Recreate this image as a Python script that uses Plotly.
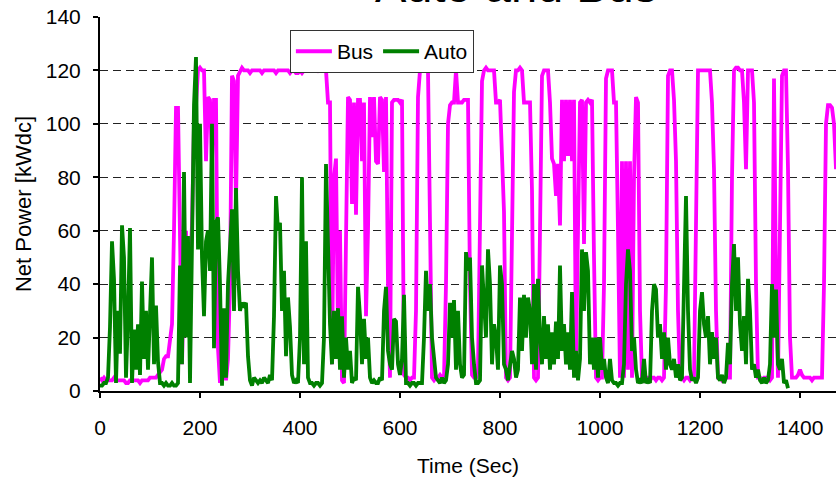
import numpy as np
import plotly.graph_objects as go

# Sampling interval of the recorded traces (seconds)
STEP_S = 4

# Bus net power [kWdc], one value every 4 s starting at t = 0 s (rows of 10 = 40 s)
bus_power = [
    5, 4, 5, 4, 4, 4, 4, 5, 4, 4,                      # 0
    4, 4, 4, 3, 3, 4, 4, 4, 4, 4,                      # 40
    3, 4, 4, 4, 4, 5, 5, 5, 5, 6,                      # 80
    7, 8, 12, 13, 13, 18, 25, 60, 106, 106,            # 120
    60, 10, 45, 60, 30, 50, 62, 100, 107, 120,         # 160
    121, 120, 120, 86, 110, 109, 86, 109, 109, 16,     # 200
    3, 8, 18, 4, 12, 40, 118, 116, 70, 118,            # 240
    120, 121, 120, 120, 120, 119, 120, 120, 120, 120,  # 280
    120, 119, 120, 120, 120, 120, 120, 120, 119, 120,  # 320
    120, 120, 120, 120, 120, 119, 120, 120, 119, 119,  # 360
    120, 119, 120, 120, 121, 120, 120, 120, 121, 120,  # 400
    121, 120, 120, 120, 108, 108, 10, 80, 87, 20,      # 440
    60, 4, 3, 60, 110, 109, 70, 108, 66, 109,          # 480
    109, 86, 108, 28, 60, 110, 95, 110, 86, 85,        # 520
    110, 109, 82, 110, 40, 5, 108, 109, 109, 109,      # 560
    108, 109, 6, 5, 5, 4, 5, 5, 30, 110,               # 600
    120, 120, 120, 120, 120, 63, 5, 4, 5, 5,           # 640
    6, 5, 5, 40, 100, 107, 108, 108, 120, 108,         # 680
    108, 108, 109, 109, 109, 40, 6, 5, 5, 8,           # 720
    60, 116, 120, 121, 120, 120, 120, 120, 108, 108,   # 760
    109, 87, 67, 5, 4, 5, 50, 112, 120, 120,           # 800
    121, 120, 108, 108, 108, 108, 75, 5, 4, 5,         # 840
    60, 118, 120, 120, 120, 108, 87, 85, 73, 85,       # 880
    62, 109, 86, 109, 88, 109, 86, 109, 10, 60,        # 920
    108, 109, 55, 108, 109, 108, 109, 50, 5, 4,        # 960
    5, 5, 40, 117, 120, 120, 120, 108, 108, 60,        # 1000
    5, 86, 5, 86, 8, 86, 5, 80, 110, 108,              # 1040
    30, 5, 4, 5, 5, 4, 5, 5, 4, 5,                     # 1080
    5, 4, 5, 40, 118, 120, 120, 109, 86, 30,           # 1120
    5, 5, 4, 5, 5, 4, 5, 5, 60, 120,                   # 1160
    120, 120, 120, 120, 120, 120, 108, 83, 30, 5,      # 1200
    5, 4, 5, 5, 5, 5, 80, 120, 121, 121,               # 1240
    120, 120, 108, 83, 120, 120, 120, 108, 40, 5,      # 1280
    5, 4, 5, 5, 5, 4, 5, 117, 40, 5,                   # 1320
    60, 118, 120, 120, 83, 20, 5, 5, 5, 6,             # 1360
    8, 6, 5, 5, 5, 5, 4, 5, 5, 5,                      # 1400
    5, 5, 40, 100, 107, 107, 106, 100, 83,             # 1440
]

# Auto net power [kWdc], one value every 4 s starting at t = 0 s
auto_power = [
    2, 2, 3, 3, 5, 24, 56, 42, 3, 30,          # 0
    14, 62, 50, 5, 28, 61, 3, 23, 8, 25,       # 40
    6, 41, 12, 30, 8, 33, 50, 10, 32, 11,      # 80
    3, 3, 2, 3, 2, 2, 3, 2, 2, 3,              # 120
    47, 10, 82, 20, 58, 3, 60, 107, 125, 53,   # 160
    100, 50, 28, 56, 60, 45, 100, 16, 63, 65,  # 200
    40, 2, 31, 5, 40, 55, 68, 30, 76, 45,      # 240
    30, 33, 32, 33, 13, 4, 2, 5, 4, 3,         # 280
    4, 3, 5, 4, 3, 6, 4, 28, 73, 60,           # 320
    63, 30, 45, 13, 35, 24, 6, 3, 4, 3,        # 360
    20, 80, 10, 56, 5, 3, 3, 2, 3, 3,          # 400
    2, 3, 20, 85, 55, 25, 10, 30, 12, 31,      # 440
    8, 28, 5, 20, 8, 15, 3, 5, 4, 39,          # 480
    28, 10, 27, 12, 20, 5, 3, 4, 3, 3,         # 520
    5, 4, 30, 39, 15, 10, 8, 27, 26, 10,       # 560
    6, 12, 36, 3, 3, 2, 3, 3, 2, 3,            # 600
    3, 3, 20, 45, 30, 40, 20, 12, 5, 4,        # 640
    3, 5, 3, 4, 10, 33, 20, 34, 8, 30,         # 680
    10, 5, 6, 52, 45, 50, 20, 10, 3, 3,        # 720
    4, 47, 35, 20, 53, 40, 10, 25, 20, 8,      # 760
    47, 40, 10, 8, 4, 10, 15, 12, 5, 8,        # 800
    35, 15, 36, 20, 35, 30, 10, 40, 8, 42,     # 840
    20, 10, 28, 12, 25, 8, 22, 10, 26, 12,     # 880
    47, 15, 25, 10, 22, 8, 37, 5, 15, 4,       # 920
    12, 53, 30, 52, 45, 10, 20, 8, 20, 5,      # 960
    20, 8, 12, 5, 3, 12, 4, 3, 3, 2,           # 1000
    3, 3, 10, 40, 53, 45, 15, 20, 8, 3,        # 1040
    4, 3, 12, 3, 4, 3, 30, 40, 38, 20,         # 1080
    25, 12, 22, 8, 20, 10, 8, 12, 5, 10,       # 1120
    4, 5, 40, 73, 30, 8, 4, 5, 3, 5,           # 1160
    30, 37, 25, 20, 28, 10, 22, 12, 20, 5,     # 1200
    4, 6, 3, 5, 18, 10, 40, 55, 30, 50,        # 1240
    25, 15, 28, 10, 42, 30, 8, 10, 5, 8,       # 1280
    4, 3, 5, 3, 4, 10, 40, 20, 38, 10,         # 1320
    8, 12, 3, 4, 1,                            # 1360
]

x_ticks = [0, 200, 400, 600, 800, 1000, 1200, 1400]
y_ticks = [0, 20, 40, 60, 80, 100, 120, 140]

bus_time = np.arange(len(bus_power)) * STEP_S
auto_time = np.arange(len(auto_power)) * STEP_S

FONT = "Arial, Liberation Sans, sans-serif"

fig = go.Figure()
fig.add_trace(go.Scatter(x=bus_time, y=bus_power, mode="lines", name="Bus",
                         line=dict(color="#FF00FF", width=3.8)))
fig.add_trace(go.Scatter(x=auto_time, y=auto_power, mode="lines", name="Auto",
                         line=dict(color="#008000", width=3.8)))

fig.update_layout(
    width=836, height=478, autosize=False,
    paper_bgcolor="white", plot_bgcolor="white",
    margin=dict(l=100, r=0, t=17, b=87),
    font=dict(family=FONT, color="black", size=21),
    showlegend=True,
    legend=dict(orientation="h", x=0.258, y=0.965, xanchor="left", yanchor="top",
                bgcolor="white", bordercolor="#333333", borderwidth=1,
                font=dict(family=FONT, size=21, color="black"),
                itemwidth=36, traceorder="normal"),
    annotations=[dict(text="Auto and Bus", xref="paper", yref="paper",
                      x=0.565, y=1, xanchor="center", yanchor="bottom", yshift=3,
                      showarrow=False, font=dict(family=FONT, size=47, color="black"))],
)

fig.update_xaxes(range=[0, 1472], tickvals=x_ticks, ticks="outside", ticklen=5,
                 tickwidth=1.5, tickcolor="black", showline=True, linecolor="black",
                 linewidth=2, showgrid=False, zeroline=False, automargin=False,
                 tickfont=dict(family=FONT, size=21, color="black"),
                 ticklabelstandoff=12,
                 title=dict(text="Time (Sec)", font=dict(family=FONT, size=21, color="black"),
                            standoff=20))
fig.update_yaxes(range=[0, 140], tickvals=y_ticks, ticks="outside", ticklen=5,
                 tickwidth=1.5, tickcolor="black", showline=True, linecolor="black",
                 linewidth=2, showgrid=True, gridcolor="#222222", gridwidth=1,
                 griddash="8px,5px", zeroline=False, automargin=False,
                 tickfont=dict(family=FONT, size=21, color="black"),
                 ticklabelstandoff=8,
                 title=dict(text="Net Power [kWdc]", font=dict(family=FONT, size=22, color="black"),
                            standoff=8))

# place the figure at the page's top-left corner (no default body margin)
fig.write_html("out.html", config={"displayModeBar": False},
               post_script="document.body.style.margin='0px';")
